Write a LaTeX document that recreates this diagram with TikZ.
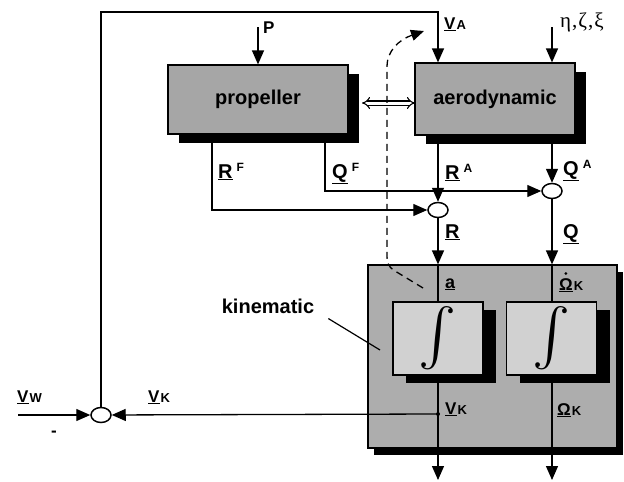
\documentclass[tikz,border=0pt]{standalone}
\usepackage{fontspec}
\setmainfont{Liberation Sans}
\newfontfamily\grk{Liberation Serif}
\usetikzlibrary{arrows.meta,calc,shapes.geometric,shadows}
\newcommand\lbl[2]{\underline{#1}\hspace{1pt}{\fontsize{13}{13}\selectfont #2}}
\newcommand\suplbl[2]{\underline{#1}\hspace{4pt}\raisebox{6.5pt}{\fontsize{12}{12}\selectfont #2}}
\newcommand\bigint{\resizebox{!}{46pt}{$\int$}}
\tikzset{
  shad/.style={drop shadow={shadow xshift=11pt,shadow yshift=-9pt,fill=black,opacity=1}},
  blk/.style={draw=black,line width=1.2pt,fill=black!35,inner sep=0pt,
    font=\fontsize{20}{20}\selectfont\bfseries},
  intbox/.style={draw=black,line width=1.2pt,fill=black!18,inner sep=0pt,
    minimum width=90pt,minimum height=73pt,
    drop shadow={shadow xshift=13pt,shadow yshift=-8pt,fill=black,opacity=1}},
  sumc/.style={ellipse,draw=black,line width=1.5pt,fill=white,minimum width=20pt,minimum height=15pt,inner sep=0pt},
  conn/.style={line width=1.3pt},
  arr/.style={conn,-{Triangle[length=14pt,width=12pt]}},
  txt/.style={font=\fontsize{17}{17}\selectfont\bfseries,inner sep=0pt,anchor=base west},
  txtb/.style={font=\fontsize{20}{20}\selectfont\bfseries,inner sep=0pt,anchor=base west},
}
\begin{document}
\begin{tikzpicture}[x=1pt,y=-1pt]
\useasboundingbox (0,0) rectangle (624,482);
% blocks
\node[blk,shad,minimum width=180pt,minimum height=69pt] (prop) at (258,99.5) {propeller};
\node[blk,shad,minimum width=160pt,minimum height=72pt] (aero) at (495,99) {aerodynamic};
\node[blk,fill=black!32,minimum width=249pt,minimum height=183pt,
  drop shadow={shadow xshift=6pt,shadow yshift=-7pt,fill=black,opacity=1}] (kin) at (492.5,356.5) {};
\node[intbox] (int1) at (438,338.5) {\bigint};
\node[intbox] (int2) at (551.5,338.5) {\bigint};
% summing points
\node[sumc] (sumV) at (101,415) {};
\node[sumc] (sumR) at (438,210) {};
\node[sumc] (sumQ) at (552,191) {};
% free ends
\coordinate (vaTop) at (438,12);
\coordinate (pTop) at (258,27);
\coordinate (eTop) at (552,27);
\coordinate (rf) at (212,134);
\coordinate (qf) at (325,134);
\coordinate (vk) at (438,414);
\coordinate (vw) at (18,415);
\coordinate (outV) at (438,480);
\coordinate (outO) at (552,480);
\coordinate (dblL) at (362,103);
\coordinate (dblR) at (415,103);
\coordinate (dS) at (423,288);
\coordinate (dE) at (424,31);
\coordinate (kp) at (380,350);
% connectors
\draw[arr] (sumV) -- (sumV |- vaTop) -- (vaTop) -- (vaTop |- aero.north);
\draw[arr] (pTop) -- (prop.north);
\draw[arr] (eTop) -- (eTop |- aero.north);
\draw[line width=1.1pt,double,double distance=3pt,{Implies}-{Implies}] (dblL) -- (dblR);
\draw[arr] (sumR |- aero.south) -- (sumR);
\draw[arr] (sumQ |- aero.south) -- (sumQ);
\draw[arr] (qf) |- (sumQ);
\draw[arr] (rf) |- (sumR);
\draw[arr] (sumR) -- (sumR |- kin.north);
\draw[arr] (sumQ) -- (sumQ |- kin.north);
\draw[conn] (sumR |- kin.north) -- (int1.north);
\draw[conn] (sumQ |- kin.north) -- (int2.north -| sumQ);
\draw[arr] (int1.south) -- (outV);
\draw[arr] (int2.south -| sumQ) -- (outO);
\fill (vk) circle (2pt);
\draw[arr] (vk) -- (sumV);
\draw[arr] (vw) -- (sumV);
\draw[line width=1.3pt,dash pattern=on 7pt off 5pt,-{Triangle[length=13pt,width=11pt]}]
  (dS) -- (395,271) .. controls (387,266) and (387,262) .. (387,252) -- (387,66)
  .. controls (387,52) and (398,40) .. (dE);
% labels
\node[txt] (lP) at (263,33) {P};
\node[txt] (lVA) at (444,29) {\lbl{V}{A}};
\node[txt,font=\fontsize{21}{21}\selectfont\grk] (lE) at (560,27) {η\hspace{1pt},\hspace{1pt}ζ\hspace{1pt},\hspace{1pt}ξ};
\node[txtb] (lRF) at (218,178) {\suplbl{R}{F}};
\node[txtb] (lQF) at (332,178) {\suplbl{Q}{F}};
\node[txtb] (lRA) at (445,179) {\suplbl{R}{A}};
\node[txtb] (lQA) at (563,175) {\suplbl{Q}{A}};
\node[txtb] (lR) at (445,238) {\underline{R}};
\node[txtb] (lQ) at (563,238) {\underline{Q}};
\node[txt,font=\fontsize{18}{18}\selectfont\bfseries] (la) at (445,288) {\underline{a}};
\node[txt] (lOd) at (559,290) {\lbl{Ω}{K}};
\fill ($(lOd.base west)+(6.8,-16.5)$) circle (1.5pt);
\node[txt] (lVK2) at (445,414) {\lbl{V}{K}};
\node[txt] (lOK) at (557,415) {\lbl{Ω}{K}};
\node[txt] (lVW) at (17,402) {\lbl{V}{W}};
\node[txt] (lVK) at (148,402) {\lbl{V}{K}};
\node[txt] (lmin) at (51,436) {-};
\node[font=\fontsize{20}{20}\selectfont\bfseries,inner sep=0pt] (kl) at (268,306) {kinematic};
\draw[line width=1.2pt] ($(kl.south east)+(14,5)$) -- (kp);
\end{tikzpicture}
\end{document}
